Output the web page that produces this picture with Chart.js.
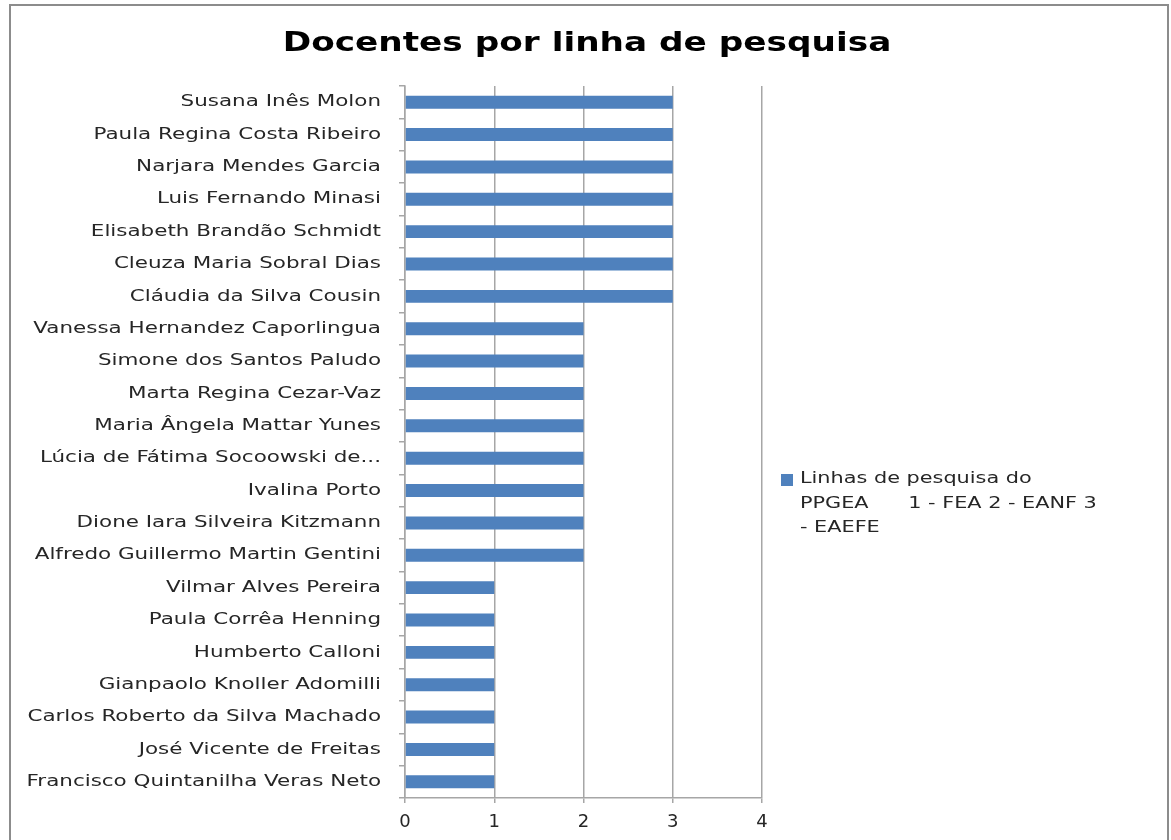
<!DOCTYPE html>
<html>
<head>
<meta charset="utf-8">
<script src="https://cdn.jsdelivr.net/npm/chart.js@4"></script>
<style>
  html, body { margin: 0; padding: 0; background: #fff; }
  #wrap { width: 1171px; height: 840px; }
</style>
</head>
<body>
<div id="wrap"><canvas id="docChart" width="1171" height="840"></canvas></div>
<script>
// Data
const docentes = [
    'Susana Inês Molon',
    'Paula Regina Costa Ribeiro',
    'Narjara Mendes Garcia',
    'Luis Fernando Minasi',
    'Elisabeth Brandão Schmidt',
    'Cleuza Maria Sobral Dias',
    'Cláudia da Silva Cousin',
    'Vanessa Hernandez Caporlingua',
    'Simone dos Santos Paludo',
    'Marta Regina Cezar-Vaz',
    'Maria Ângela Mattar Yunes',
    'Lúcia de Fátima Socoowski de...',
    'Ivalina Porto',
    'Dione Iara Silveira Kitzmann',
    'Alfredo Guillermo Martin Gentini',
    'Vilmar Alves Pereira',
    'Paula Corrêa Henning',
    'Humberto Calloni',
    'Gianpaolo Knoller Adomilli',
    'Carlos Roberto da Silva Machado',
    'José Vicente de Freitas',
    'Francisco Quintanilha Veras Neto'
];
const linhas = [3, 3, 3, 3, 3, 3, 3, 2, 2, 2, 2, 2, 2, 2, 2, 1, 1, 1, 1, 1, 1, 1];
const xTicks = [0, 1, 2, 3, 4];

const chartTitle = 'Docentes por linha de pesquisa';
const legendLines = ['Linhas de pesquisa do', 'PPGEA      1 - FEA 2 - EANF 3', '- EAEFE'];

const barColor = '#4F81BD';
const gridColor = '#a6a6a6';
const textColor = '#262626';
const fontName = '"DejaVu Sans", sans-serif';

// draw text stretched sideways, the reference font is wide
function wideText(c, text, x, y, sx) {
    c.save();
    c.translate(x, y);
    c.scale(sx, 1);
    c.fillText(text, 0, 0);
    c.restore();
}

// Frame, title, category labels and legend drawn around the plot
const decorPlugin = {
    id: 'decor',
    beforeDraw(chart) {
        const c = chart.ctx;
        c.save();
        c.fillStyle = '#ffffff';
        c.fillRect(0, 0, chart.width, chart.height);
        c.strokeStyle = '#8c8c8c';
        c.lineWidth = 2;
        c.strokeRect(10, 5, 1158, 900);
        c.restore();
    },
    afterDraw(chart) {
        const c = chart.ctx;
        c.save();
        c.textBaseline = 'middle';

        // title
        c.fillStyle = '#000';
        c.font = 'bold 27px ' + fontName;
        c.textAlign = 'center';
        wideText(c, chartTitle, 587, 44, 1.27);

        // category labels, placed by the y scale
        const yScale = chart.scales.y;
        c.fillStyle = textColor;
        c.font = '16px ' + fontName;
        c.textAlign = 'right';
        yScale.ticks.forEach((t, i) => {
            const y = yScale.getPixelForTick(i);
            wideText(c, yScale.getLabelForValue(t.value), 381, y, 1.34);
        });

        // legend
        c.fillStyle = barColor;
        c.fillRect(781, 474, 12, 12);
        c.fillStyle = textColor;
        c.textAlign = 'left';
        legendLines.forEach((line, i) => {
            wideText(c, line, 800, 479 + i * 24.5, 1.3);
        });
        c.restore();
    }
};

const ctx = document.getElementById('docChart').getContext('2d');
const chart = new Chart(ctx, {
    type: 'bar',
    data: {
        labels: docentes,
        datasets: [{
            label: legendLines.join(' '),
            data: linhas,
            backgroundColor: barColor,
            borderWidth: 0,
            barPercentage: 0.4,
            categoryPercentage: 1.0
        }]
    },
    options: {
        indexAxis: 'y',
        responsive: false,
        animation: false,
        layout: {
            padding: { top: 86, right: 409, bottom: 0, left: 0 }
        },
        plugins: {
            legend: { display: false },
            title: { display: false },
            tooltip: { enabled: false }
        },
        scales: {
            x: {
                min: 0,
                max: 4,
                afterBuildTicks: (scale) => {
                    scale.ticks = xTicks.map(v => ({ value: v }));
                },
                afterFit: (scale) => { scale.height = 42; },
                grid: { color: gridColor, lineWidth: 1.5, tickLength: 5 },
                border: { color: gridColor, width: 1.5 },
                ticks: {
                    color: textColor,
                    padding: 9,
                    font: { family: fontName, size: 18 }
                }
            },
            y: {
                afterFit: (scale) => { scale.width = 405; },
                grid: { drawOnChartArea: false, color: gridColor, lineWidth: 1.5, tickLength: 6 },
                border: { color: gridColor, width: 1.5 },
                ticks: {
                    display: false,
                    autoSkip: false
                }
            }
        }
    },
    plugins: [decorPlugin]
});
</script>
</body>
</html>
